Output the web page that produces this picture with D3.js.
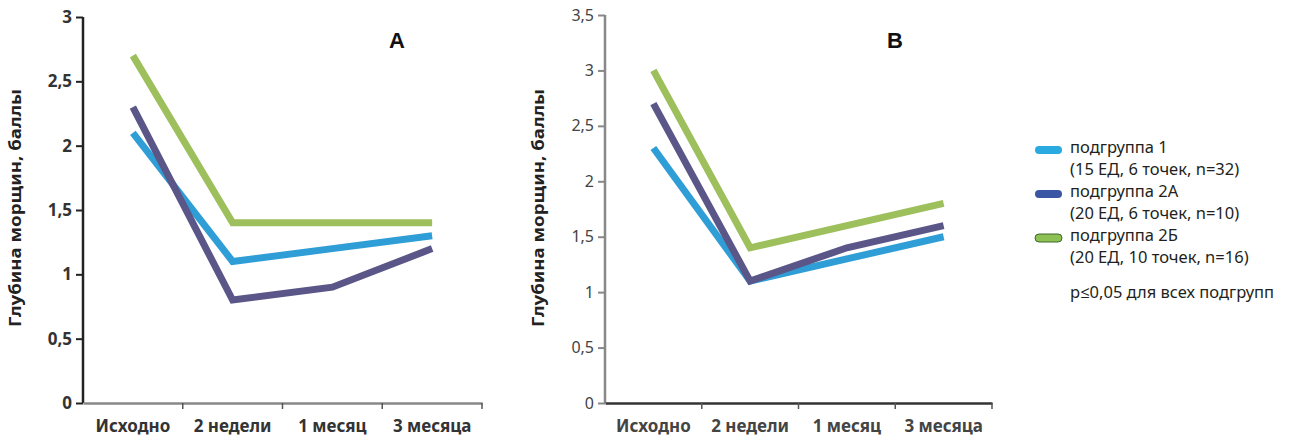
<!DOCTYPE html>
<html>
<head>
<meta charset="utf-8">
<script src="https://cdnjs.cloudflare.com/ajax/libs/d3/7.8.5/d3.min.js"></script>
<style>
  body { margin: 0; background: #fff; }
  svg { display: block; }
  .tick text { font-family: "Noto Sans", "Open Sans", sans-serif; }
</style>
</head>
<body>
<svg width="1290" height="439"></svg>
<script>
// categories (time points)
const categories = ["Исходно", "2 недели", "1 месяц", "3 месяца"];

// panel A values
const a_sub1 = [2.1, 1.1, 1.2, 1.3];
const a_sub2A = [2.3, 0.8, 0.9, 1.2];
const a_sub2B = [2.7, 1.4, 1.4, 1.4];

// panel B values
const b_sub1 = [2.3, 1.1, 1.3, 1.5];
const b_sub2A = [2.7, 1.1, 1.4, 1.6];
const b_sub2B = [3.0, 1.4, 1.6, 1.8];

const ticksA = [0, 0.5, 1, 1.5, 2, 2.5, 3];
const ticksB = [0, 0.5, 1, 1.5, 2, 2.5, 3, 3.5];

const legendLabels = [
  ["подгруппа 1", "(15 ЕД, 6 точек, n=32)"],
  ["подгруппа 2А", "(20 ЕД, 6 точек, n=10)"],
  ["подгруппа 2Б", "(20 ЕД, 10 точек, n=16)"]
];
const note = "p≤0,05 для всех подгрупп";

const lineColors = ["#2f9ed6", "#5b5688", "#9dbf5c"];
const legendColors = ["#29abe2", "#3b55a5", "#8dc153"];

const svg = d3.select("svg");
const fmt = d => String(d).replace(".", ",");

function panel(opts) {
  const g = svg.append("g");
  const x = d3.scaleBand().domain(categories).range([opts.x0, opts.x1]);
  const y = d3.scaleLinear().domain([0, opts.max]).range([403, opts.yTop]);

  // y axis
  const ya = g.append("g")
    .attr("transform", `translate(${opts.x0},0)`)
    .call(d3.axisLeft(y).tickValues(opts.ticks).tickFormat(fmt).tickSize(7).tickPadding(4));
  ya.select(".domain").attr("stroke", opts.yAxisColor).attr("stroke-width", 2.5)
    .attr("d", `M0,${y(opts.max)}V403`);
  ya.selectAll(".tick line").attr("stroke", opts.yAxisColor).attr("stroke-width", 2);
  ya.selectAll(".tick text").attr("font-size", opts.yTickSize).attr("font-weight", opts.yTickWeight)
    .attr("fill", opts.textColor);

  // x axis
  const xa = g.append("g")
    .attr("transform", "translate(0,403)")
    .call(d3.axisBottom(x).tickSize(0).tickPadding(17));
  xa.select(".domain").attr("stroke", opts.xAxisColor).attr("stroke-width", 2.5);
  xa.selectAll(".tick text").attr("font-size", 17).attr("font-weight", "bold")
    .attr("fill", opts.textColor);
  // separators between categories
  g.selectAll(".sep")
    .data(categories.slice(1).concat(["end"]))
    .join("line")
    .attr("x1", d => d === "end" ? opts.x1 : x(d))
    .attr("x2", d => d === "end" ? opts.x1 : x(d))
    .attr("y1", 403).attr("y2", 409)
    .attr("stroke", "#555").attr("stroke-width", 1.5);

  // y title
  g.append("text")
    .attr("transform", `translate(${opts.titleX},${opts.titleY}) rotate(-90)`)
    .attr("text-anchor", "middle")
    .attr("dy", "0.35em")
    .attr("font-family", "Noto Sans, Open Sans, sans-serif")
    .attr("font-weight", "bold")
    .attr("font-size", 16)
    .attr("textLength", 238)
    .attr("lengthAdjust", "spacingAndGlyphs")
    .attr("fill", "#222")
    .text("Глубина морщин, баллы");

  // panel letter
  g.append("text")
    .attr("x", opts.letterX).attr("y", 48)
    .attr("text-anchor", "middle")
    .attr("font-family", "Liberation Sans, Arial, sans-serif")
    .attr("font-weight", "bold")
    .attr("font-size", 22)
    .attr("fill", "#111")
    .text(opts.letter);

  const line = d3.line()
    .x((d, i) => x(categories[i]) + x.bandwidth() / 2)
    .y(d => y(d));

  // blue first, purple, then green on top
  opts.series.forEach((s, i) => {
    g.append("path")
      .datum(s)
      .attr("fill", "none")
      .attr("stroke", lineColors[i])
      .attr("stroke-width", 7)
      .attr("stroke-linejoin", "miter")
      .attr("d", line);
  });
}

panel({
  x0: 83, x1: 482, yTop: 17, max: 3, ticks: ticksA,
  series: [a_sub1, a_sub2A, a_sub2B],
  yAxisColor: "#222", xAxisColor: "#888", textColor: "#333",
  yTickSize: 17, yTickWeight: "bold",
  titleX: 15, titleY: 208, letter: "A", letterX: 397
});

panel({
  x0: 605, x1: 992, yTop: 15, max: 3.5, ticks: ticksB,
  series: [b_sub1, b_sub2A, b_sub2B],
  yAxisColor: "#888", xAxisColor: "#333", textColor: "#444",
  yTickSize: 16, yTickWeight: "normal",
  titleX: 538, titleY: 208, letter: "B", letterX: 895
});

// legend
const lg = svg.append("g").attr("font-family", "Noto Sans, Open Sans, sans-serif")
  .attr("font-size", 16.5).attr("fill", "#231f20");
legendLabels.forEach((lab, i) => {
  const base = 153 + i * 44;
  lg.append("rect")
    .attr("x", 1035).attr("y", base - 7).attr("width", 27).attr("height", 8)
    .attr("rx", 4)
    .attr("fill", legendColors[i])
    .attr("stroke", i === 2 ? "#3f6b2a" : "none")
    .attr("stroke-width", 1);
  lg.append("text").attr("x", 1070).attr("y", base).text(lab[0]);
  lg.append("text").attr("x", 1070).attr("y", base + 22).text(lab[1]);
});
lg.append("text").attr("x", 1070).attr("y", 298).text(note);
</script>
</body>
</html>
